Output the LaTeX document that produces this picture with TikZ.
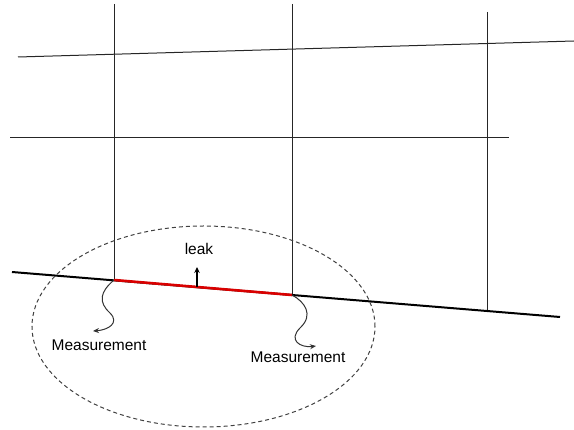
\documentclass[tikz,border=0pt]{standalone}
\usepackage{fontspec}
\setmainfont{Liberation Sans}
\usetikzlibrary{arrows.meta,shapes.geometric}
\begin{document}
\begin{tikzpicture}[x=1pt,y=-1pt,
  thinline/.style={draw=black!85,line width=1pt},
  pipe/.style={draw=black,line width=2pt},
  leakseg/.style={draw=red!85!black,line width=2.6pt},
  lbl/.style={font=\fontsize{15.5}{18}\selectfont,inner sep=1pt},
  wavy/.style={draw=black!80,line width=1pt,-{Stealth[length=6pt,width=5pt]}}]
\useasboundingbox (0,0) rectangle (574,430);
% grid lines
\coordinate (t1) at (18,57);
\coordinate (t2) at (574,41);
\coordinate (h1) at (10,138);
\coordinate (h2) at (509,138);
\coordinate (v1t) at (114,4);
\coordinate (v2t) at (292,4);
\coordinate (v3t) at (487,12);
\coordinate (b1) at (12,272);
\coordinate (b2) at (560,317);
\coordinate (v1b) at (114,280);
\coordinate (v2b) at (292,295);
\coordinate (v3b) at (487,311);
\draw[thinline] (t1) -- (t2);
\draw[thinline] (h1) -- (h2);
\draw[thinline] (v1t) -- (v1b);
\draw[thinline] (v2t) -- (v2b);
\draw[thinline] (v3t) -- (v3b);
\draw[pipe] (b1) -- (b2);
\draw[leakseg] (v1b) -- (v2b);
% dashed ellipse
\node[draw=black!75,dash pattern=on 4pt off 3pt,line width=1pt,ellipse,minimum width=343pt,minimum height=201pt,inner sep=0pt] (zone) at (203.5,326.5) {};
% leak
\coordinate (lk) at (197,287);
\node[lbl] (leak) at (199,249) {leak};
\draw[draw=black,line width=1.1pt,-{Stealth[length=6pt,width=5.5pt]}] (lk) -- (197,267);
% measurements
\node[lbl] (m1) at (99,345) {Measurement};
\node[lbl] (m2) at (298,357) {Measurement};
\coordinate (a1) at (93,331);
\coordinate (a2) at (316,346);
\draw[wavy] (v1b) .. controls (100,292) and (98,302) .. (110,313) .. controls (120,323) and (108,330) .. (a1);
\draw[wavy] (v2b) .. controls (305,302) and (314,315) .. (300,328) .. controls (288,340) and (300,348) .. (a2);
\end{tikzpicture}
\end{document}
